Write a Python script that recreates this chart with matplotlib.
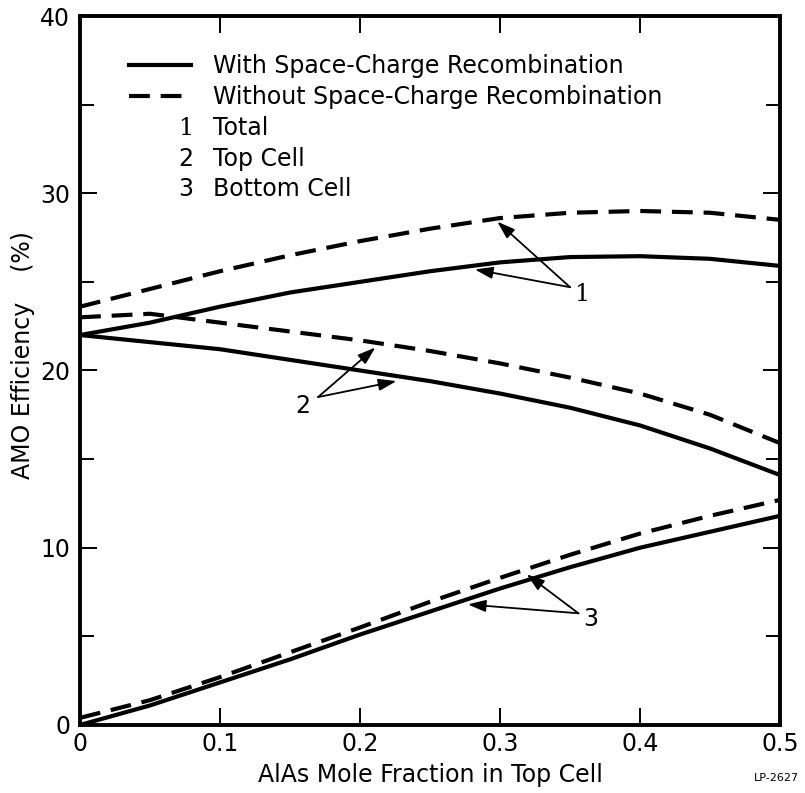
import numpy as np
import matplotlib.pyplot as plt
from matplotlib.lines import Line2D
from matplotlib.ticker import MultipleLocator

# AlAs mole fraction in the top cell
x = [0.0, 0.05, 0.10, 0.15, 0.20, 0.25, 0.30, 0.35, 0.40, 0.45, 0.50]

# AMO efficiency (%), with space-charge recombination (solid)
total_with = [22.0, 22.7, 23.6, 24.4, 25.0, 25.6, 26.1, 26.4, 26.45, 26.3, 25.9]
top_with = [22.0, 21.6, 21.2, 20.6, 20.0, 19.4, 18.7, 17.9, 16.9, 15.6, 14.1]
bottom_with = [0.0, 1.1, 2.4, 3.7, 5.1, 6.4, 7.7, 8.9, 10.0, 10.9, 11.8]

# without space-charge recombination (dashed)
total_without = [23.6, 24.6, 25.6, 26.5, 27.3, 28.0, 28.6, 28.9, 29.0, 28.9, 28.5]
top_without = [23.0, 23.2, 22.7, 22.2, 21.7, 21.1, 20.4, 19.6, 18.7, 17.5, 15.9]
bottom_without = [0.4, 1.4, 2.7, 4.1, 5.5, 6.95, 8.3, 9.6, 10.8, 11.8, 12.7]

legend_labels = ['With Space-Charge Recombination', 'Without Space-Charge Recombination']
curve_numbers = ['1', '2', '3']
curve_names = ['Total', 'Top Cell', 'Bottom Cell']
xtick_labels = ['0', '0.1', '0.2', '0.3', '0.4', '0.5']
ytick_labels = ['0', '10', '20', '30', '40']

plt.rcParams['font.family'] = ['DejaVu Sans']
FS = 17
LW = 3.0
DASH = (0, (5, 2.6))

fig = plt.figure(figsize=(8.05, 7.93), dpi=100)
ax = fig.add_axes([0.0994, 0.0858, 0.8696, 0.894])

for ys in (total_with, top_with, bottom_with):
    ax.plot(x, ys, color='black', lw=LW, solid_capstyle='butt')
for ys in (total_without, top_without, bottom_without):
    ax.plot(x, ys, color='black', lw=LW, linestyle=DASH, dash_capstyle='butt')

ax.set_xlim(0, 0.5)
ax.set_ylim(0, 40)
ax.set_xticks([0, 0.1, 0.2, 0.3, 0.4, 0.5])
ax.set_xticklabels(xtick_labels)
ax.set_yticks([0, 10, 20, 30, 40])
ax.set_yticklabels(ytick_labels)
ax.yaxis.set_minor_locator(MultipleLocator(5))
ax.tick_params(which='both', direction='in', top=True, right=True, width=1.4,
               labelsize=FS)
ax.tick_params(which='major', length=12)
ax.tick_params(which='minor', length=10)
ax.tick_params(axis='x', pad=5)
ax.tick_params(axis='y', pad=7)
for s in ax.spines.values():
    s.set_linewidth(2.8)

ax.set_xlabel('AlAs Mole Fraction in Top Cell', fontsize=FS, labelpad=5)
ax.set_ylabel('AMO Efficiency    (%)', fontsize=FS)
ax.yaxis.set_label_coords(-0.064, 0.522)

# legend
handles = [Line2D([], [], color='black', lw=LW),
           Line2D([], [], color='black', lw=LW, linestyle=DASH)]
leg = ax.legend(handles, legend_labels, loc='upper left', bbox_to_anchor=(0.070, 0.946),
                frameon=False, fontsize=FS, handlelength=2.64, handletextpad=0.9,
                borderpad=0, borderaxespad=0, labelspacing=0.3)

for i, (num, name) in enumerate(zip(curve_numbers, curve_names)):
    yy = 0.842 - i * 0.043
    ax.text(0.162, yy, num, transform=ax.transAxes, ha='right', va='center', fontsize=FS,
            family='DejaVu Serif' if num == '1' else 'DejaVu Sans')
    ax.text(0.190, yy, name, transform=ax.transAxes, ha='left', va='center', fontsize=FS)

arrow = dict(arrowstyle='-|>,head_length=0.6,head_width=0.2', color='black', lw=1.3,
             mutation_scale=18, shrinkA=0, shrinkB=0)
# curve 1
ax.annotate('', xy=(0.298, 28.4), xytext=(0.350, 24.7), arrowprops=arrow)
ax.annotate('', xy=(0.282, 25.7), xytext=(0.350, 24.7), arrowprops=arrow)
ax.text(0.358, 24.3, '1', fontsize=FS, ha='center', va='center', family='DejaVu Serif')
# curve 2
ax.annotate('', xy=(0.211, 21.3), xytext=(0.170, 18.5), arrowprops=arrow)
ax.annotate('', xy=(0.226, 19.4), xytext=(0.170, 18.5), arrowprops=arrow)
ax.text(0.159, 18.0, '2', fontsize=FS, ha='center', va='center')
# curve 3
ax.annotate('', xy=(0.319, 8.5), xytext=(0.356, 6.3), arrowprops=arrow)
ax.annotate('', xy=(0.277, 6.8), xytext=(0.356, 6.3), arrowprops=arrow)
ax.text(0.365, 6.0, '3', fontsize=FS, ha='center', va='center')

fig.text(0.993, 0.012, 'LP-2627', fontsize=8, ha='right', va='bottom')

fig.savefig('out.png', dpi=100)
